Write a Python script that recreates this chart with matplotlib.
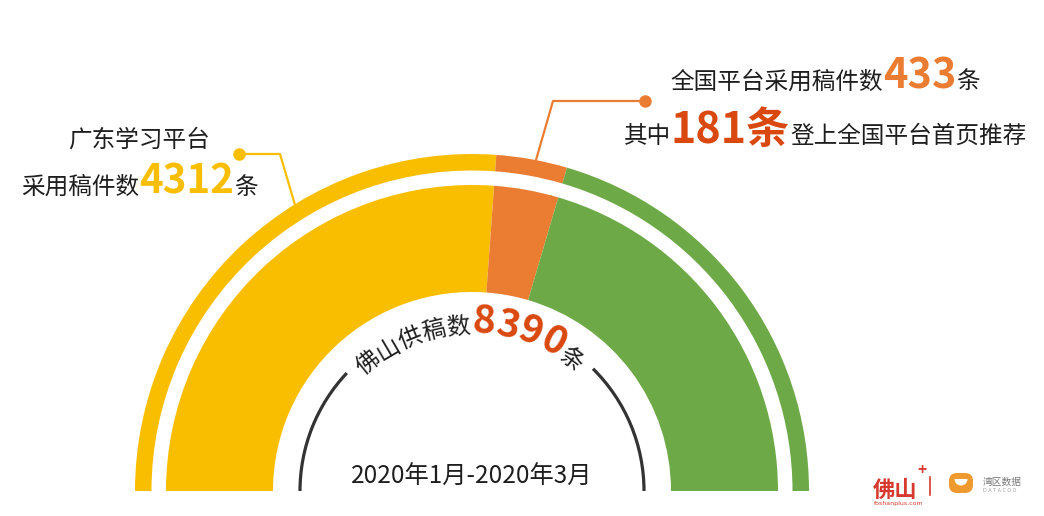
import numpy as np
import matplotlib
matplotlib.use('Agg')
from matplotlib import pyplot as plt
from matplotlib.patches import Arc, FancyBboxPatch, Wedge

plt.rcParams['font.family'] = ['Noto Sans CJK SC', 'DejaVu Sans']

# 数据
segment_names = ['广东学习平台', '全国平台', '其他']
segment_share = [52.3, 6.8, 40.9]   # 半环上各段所占比例(%)，从原图量取
segment_colors = ['#FABE00', '#EA7D32', '#6DAA47']
gd_count = 4312
national_count = 433
homepage_count = 181
total_count = 8390
period = '2020年1月-2020年3月'

W, H = 1044, 516
fig = plt.figure(figsize=(W / 100, H / 100), dpi=100)
ax = fig.add_axes([0, 0, 1, 1])
renderer = fig.canvas.get_renderer()

cx, cy = 472, H - 491
dark = '#1e1e1e'
red = '#D9480F'

# 两层半环(隐藏下半圆)
vals = segment_share + [sum(segment_share)]
cols = segment_colors + ['none']
for radius, width in [(337, 16.5), (306, 107)]:
    ax.pie(vals, colors=cols, radius=radius, center=(cx, cy), startangle=180,
           counterclock=False, wedgeprops=dict(width=width, linewidth=0), frame=True)

# 内圈黑色弧线
for t1, t2 in [(0, 45.3), (136.7, 180)]:
    ax.add_patch(Arc((cx, cy), 2 * 172, 2 * 172, theta1=t1, theta2=t2,
                     lw=2.3, color='#333333'))

# 引线
ax.plot([239.3, 280, 295], [H - 154, H - 154, H - 205], color=segment_colors[0], lw=1.6)
ax.plot([239.3], [H - 154], 'o', ms=8, color=segment_colors[0])
ax.plot([645, 553, 536], [H - 101, H - 101, H - 160], color=segment_colors[1], lw=1.6)
ax.plot([645], [H - 101], 'o', ms=8, color=segment_colors[1])


def put_line(parts, x_mid, y_base):
    texts = []
    for s, size, color, weight in parts:
        texts.append(ax.text(0, y_base, s, fontsize=size, color=color,
                             fontweight=weight, ha='left', va='baseline'))
    widths = [t.get_window_extent(renderer).width for t in texts]
    x = x_mid - sum(widths) / 2
    for t, w in zip(texts, widths):
        t.set_x(x)
        x += w


put_line([('广东学习平台', 17, dark, 'normal')], 139, H - 147)
put_line([('采用稿件数', 17, dark, 'normal'),
          (f'{gd_count}', 29, segment_colors[0], 'heavy'),
          ('条', 17, dark, 'normal')], 139, H - 194)
put_line([('全国平台采用稿件数', 17, dark, 'normal'),
          (f'{national_count}', 30, segment_colors[1], 'heavy'),
          ('条', 17, dark, 'normal')], 825, H - 88.5)
put_line([('其中', 17, dark, 'normal'),
          (f'{homepage_count}条', 31, red, 'heavy'),
          ('登上全国平台首页推荐', 17, dark, 'normal')], 825, H - 143)
put_line([(period, 17.5, dark, 'normal')], 472, H - 484)

# 沿弧排列的文字
arc_parts = [('佛山供稿数', 17, dark, 'normal'),
             (f'{total_count}', 28, red, 'heavy'),
             ('条', 17, dark, 'normal')]
chars = []
for s, size, color, weight in arc_parts:
    for ch in s:
        t = ax.text(0, 0, ch, fontsize=size, color=color, fontweight=weight)
        chars.append((ch, size, color, weight, t.get_window_extent(renderer).width))
        t.remove()
r_base = 158
total_len = sum(c[4] for c in chars)
theta = np.deg2rad(91) + total_len / 2 / r_base
for ch, size, color, weight, w in chars:
    a = theta - (w / 2) / r_base
    ax.text(cx + r_base * np.cos(a), cy + r_base * np.sin(a), ch, fontsize=size,
            color=color, fontweight=weight, rotation=np.rad2deg(a) - 90,
            rotation_mode='anchor', ha='center', va='baseline')
    theta -= w / r_base

# 右下角标识
logo_red = '#D63A2E'
ax.text(873, H - 497, '佛山', fontsize=16, color=logo_red, fontweight='bold',
        ha='left', va='baseline')
ax.text(922, H - 470, '+', fontsize=11, color=logo_red, fontweight='bold',
        ha='center', va='center')
ax.text(899, H - 504, 'foshanplus.com', fontsize=4.5, color=logo_red,
        ha='center', va='center', family='DejaVu Sans')
ax.plot([930, 930], [H - 477, H - 495], color=logo_red, lw=1.2)
ax.add_patch(FancyBboxPatch((949, H - 493), 24, 20,
                            boxstyle='round,pad=0,rounding_size=8',
                            fc='#EE9A2E', ec='none'))
ax.add_patch(Wedge((961, H - 479), 6.5, 180, 360, fc='white', ec='none'))
ax.text(983, H - 482, '湾区数据', fontsize=7, color='#777777', ha='left', va='center')
ax.text(983, H - 491, 'D A T A C O O', fontsize=3.5, color='#999999',
        ha='left', va='center', family='DejaVu Sans')

ax.set_xlim(0, W)
ax.set_ylim(0, H)
ax.set_aspect('equal')
ax.axis('off')

fig.savefig('out.png', dpi=100, facecolor='white')
